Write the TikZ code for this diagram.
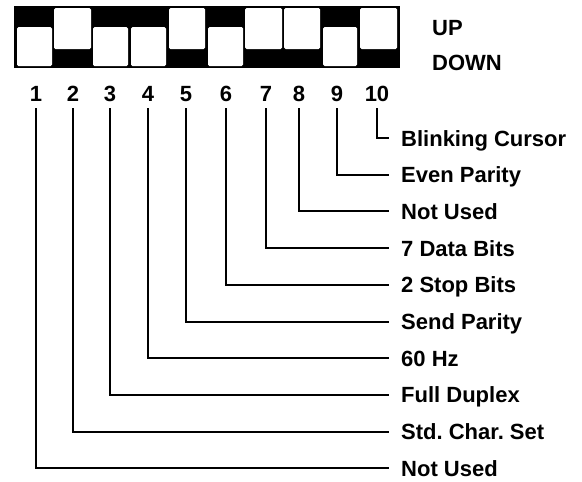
\documentclass[tikz,border=0pt]{standalone}
\usepackage{fontspec}
\newfontfamily\labfont{Liberation Sans}
\frenchspacing
\begin{document}
\begin{tikzpicture}[x=1pt,y=-1pt,
  font=\labfont\bfseries\fontsize{22}{24}\selectfont,
  num/.style={inner sep=0pt, text height=16pt, text depth=0pt},
  lab/.style={anchor=west, inner sep=0pt, text height=16pt, text depth=0pt},
  wire/.style={line width=2pt, shorten <=7pt, shorten >=12pt},
  swbox/.style={fill=white, rounded corners=1.5pt}]
\useasboundingbox (0,0) rectangle (582,482);
% switch body
\fill (14,6) rectangle (400,68);
\foreach \l/\r/\t/\b in {17/52/27/66, 54/91/8/49, 93/128/27/66, 131/166/27/66,
  169/205/8/49, 208/243/27/66, 245/282/8/49, 284/320/8/49, 323/357/27/66, 360/397/8/49}
  \path[swbox] (\l,\t) rectangle (\r,\b);
% UP / DOWN
\node[lab] (up) at (432,27) {UP};
\node[lab] (down) at (432,62) {DOWN};
% numbers
\foreach \i/\x in {1/36, 2/73, 3/110, 4/148, 5/186, 6/226, 7/266, 8/299, 9/337, 10/377}
  \node[num] (n\i) at (\x,93) {\i};
% labels
\foreach \i/\t in {10/Blinking Cursor, 9/Even Parity, 8/Not Used, 7/7 Data Bits,
  6/2 Stop Bits, 5/Send Parity, 4/60 Hz, 3/Full Duplex, 2/Std. Char. Set, 1/Not Used}
  \node[lab] (l\i) at (401,{138+36.7*(10-\i)}) {\t};
% connectors
\foreach \i in {1,...,10}
  \draw[wire] (n\i.south) |- (l\i.west);
\end{tikzpicture}
\end{document}
